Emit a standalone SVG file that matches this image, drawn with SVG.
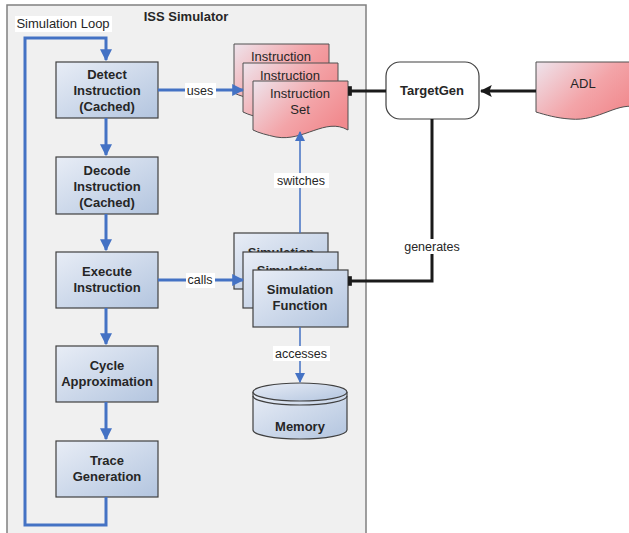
<svg xmlns="http://www.w3.org/2000/svg" width="629" height="533" viewBox="0 0 629 533">
<defs>
<linearGradient id="blue" x1="0" y1="0" x2="1" y2="1">
<stop offset="0" stop-color="#e8edf6"/>
<stop offset="1" stop-color="#b3c5df"/>
</linearGradient>
<linearGradient id="pink" x1="0" y1="0" x2="1" y2="0.6">
<stop offset="0" stop-color="#eee4ec"/>
<stop offset="0.6" stop-color="#f3a4a8"/>
<stop offset="1" stop-color="#f18a8e"/>
</linearGradient>
<marker id="ab" viewBox="0 0 10 10" refX="9" refY="5" markerWidth="4" markerHeight="4" orient="auto" markerUnits="strokeWidth">
<path d="M0,0 L10,5 L0,10 z" fill="#4472c4"/>
</marker>
<marker id="abt" viewBox="0 0 10 10" refX="9" refY="5" markerWidth="7" markerHeight="7" orient="auto" markerUnits="strokeWidth">
<path d="M0,0 L10,5 L0,10 z" fill="#4472c4"/>
</marker>
<marker id="ak" viewBox="0 0 10 10" refX="9" refY="5" markerWidth="4" markerHeight="4" orient="auto" markerUnits="strokeWidth">
<path d="M0,0 L10,5 L0,10 L2,5 z" fill="#1a1a1a"/>
</marker>
<marker id="bar" viewBox="0 0 4 10" refX="3" refY="5" markerWidth="1.3" markerHeight="3.2" orient="auto" markerUnits="strokeWidth">
<rect x="0" y="0" width="4" height="10" fill="#1a1a1a"/>
</marker>
<style>
.box{fill:url(#blue);stroke:#404040;stroke-width:1.2}
.doc{fill:url(#pink);stroke:#505050;stroke-width:1}
.b{font-family:"Liberation Sans",Arial,sans-serif;font-weight:bold;font-size:13px;fill:#262626;text-anchor:middle}
.n{font-family:"Liberation Sans",Arial,sans-serif;font-size:13px;fill:#262626;text-anchor:middle}
.lbl{font-family:"Liberation Sans",Arial,sans-serif;font-size:12.5px;fill:#262626;text-anchor:middle}
.thick{fill:none;stroke:#4472c4;stroke-width:3}
.thin{fill:none;stroke:#4472c4;stroke-width:1.5}
.blk{fill:none;stroke:#1a1a1a;stroke-width:3}
.wb{fill:#ffffff}
</style>
</defs>

<g id="iss-simulator">
<rect x="7" y="5" width="359" height="540" fill="#f0f0f0" stroke="#808080" stroke-width="1.5"/>
<text class="b" x="186" y="21">ISS Simulator</text>
</g>

<g id="detect">
<rect class="box" x="56" y="62" width="102" height="56"/>
<text class="b" x="107" y="79">Detect</text>
<text class="b" x="107" y="95">Instruction</text>
<text class="b" x="107" y="111">(Cached)</text>
</g>
<g id="decode">
<rect class="box" x="56" y="157" width="102" height="57"/>
<text class="b" x="107" y="175">Decode</text>
<text class="b" x="107" y="191">Instruction</text>
<text class="b" x="107" y="207">(Cached)</text>
</g>
<g id="execute">
<rect class="box" x="56" y="252" width="102" height="56"/>
<text class="b" x="107" y="276">Execute</text>
<text class="b" x="107" y="292">Instruction</text>
</g>
<g id="cycle">
<rect class="box" x="56" y="346" width="102" height="56"/>
<text class="b" x="107" y="370">Cycle</text>
<text class="b" x="107" y="386">Approximation</text>
</g>
<g id="trace">
<rect class="box" x="56" y="441" width="102" height="56"/>
<text class="b" x="107" y="465">Trace</text>
<text class="b" x="107" y="481">Generation</text>
</g>

<g id="instruction-set">
<path class="doc" d="M234,44 H329 V93 C306,80 285,105 257,100 C248,98 240,96 234,93 Z"/>
<text class="n" x="281" y="61">Instruction</text>
<path class="doc" d="M243,63 H338 V112 C315,99 294,124 266,119 C257,117 249,115 243,112 Z"/>
<text class="n" x="290" y="80">Instruction</text>
<path class="doc" d="M253,81 H348 V130 C325,117 304,142 276,137 C267,135 259,133 253,130 Z"/>
<text class="n" x="300" y="98">Instruction</text>
<text class="n" x="300" y="114">Set</text>
</g>

<g id="simulation-function">
<rect class="box" x="234" y="233" width="94" height="56"/>
<text class="b" x="281" y="257">Simulation</text>
<rect class="box" x="243" y="252" width="95" height="56"/>
<text class="b" x="290" y="275">Simulation</text>
<rect class="box" x="253" y="270" width="95" height="57"/>
<text class="b" x="300" y="294">Simulation</text>
<text class="b" x="300" y="310">Function</text>
</g>

<g id="memory">
<path class="box" d="M253,392 V430 A47,9 0 0 0 347,430 V392"/>
<ellipse class="box" cx="300" cy="392" rx="47" ry="9"/>
<path d="M253,396 A47,9 0 0 0 347,396" fill="none" stroke="#404040" stroke-width="1.2"/>
<text class="b" x="300" y="431">Memory</text>
</g>

<g id="targetgen">
<rect x="386" y="62" width="93" height="57" rx="14" ry="14" fill="#ffffff" stroke="#404040" stroke-width="1.2"/>
<text class="b" x="432" y="95">TargetGen</text>
</g>

<g id="adl">
<path class="doc" d="M536,62 H640 V108 C618,100 600,122 570,119 C556,118 546,115 536,112 Z"/>
<text class="n" x="583" y="88">ADL</text>
</g>

<g id="connectors">
<path class="thick" d="M106,497 V525 H25 V38 H106 V60" marker-end="url(#ab)"/>
<path class="thick" d="M106,118 V155" marker-end="url(#ab)"/>
<path class="thick" d="M106,214 V250" marker-end="url(#ab)"/>
<path class="thick" d="M106,308 V344" marker-end="url(#ab)"/>
<path class="thick" d="M106,402 V439" marker-end="url(#ab)"/>
<path class="thick" d="M158,90 H243" marker-end="url(#ab)"/>
<path class="thick" d="M158,280 H243" marker-end="url(#ab)"/>
<path class="thin" d="M300,233 V132" marker-end="url(#abt)"/>
<path class="thin" d="M300,327 V382" marker-end="url(#abt)"/>
<path class="blk" d="M536,91 H481" marker-end="url(#ak)"/>
<path class="blk" d="M386,91 H349" marker-end="url(#bar)"/>
<path class="blk" d="M432,119 V281 H349" marker-end="url(#bar)"/>
<rect class="wb" x="15" y="16" width="97" height="16"/>
<text class="n" x="63" y="28">Simulation Loop</text>
<rect class="wb" x="185" y="83" width="31" height="15"/>
<text class="lbl" x="200" y="95">uses</text>
<rect class="wb" x="186" y="273" width="29" height="15"/>
<text class="lbl" x="200" y="284">calls</text>
<rect class="wb" x="274" y="173" width="55" height="15"/>
<text class="lbl" x="301" y="185">switches</text>
<rect class="wb" x="273" y="346" width="57" height="15"/>
<text class="lbl" x="301" y="358">accesses</text>
<rect class="wb" x="401" y="239" width="62" height="15"/>
<text class="lbl" x="432" y="251">generates</text>
</g>
</svg>
